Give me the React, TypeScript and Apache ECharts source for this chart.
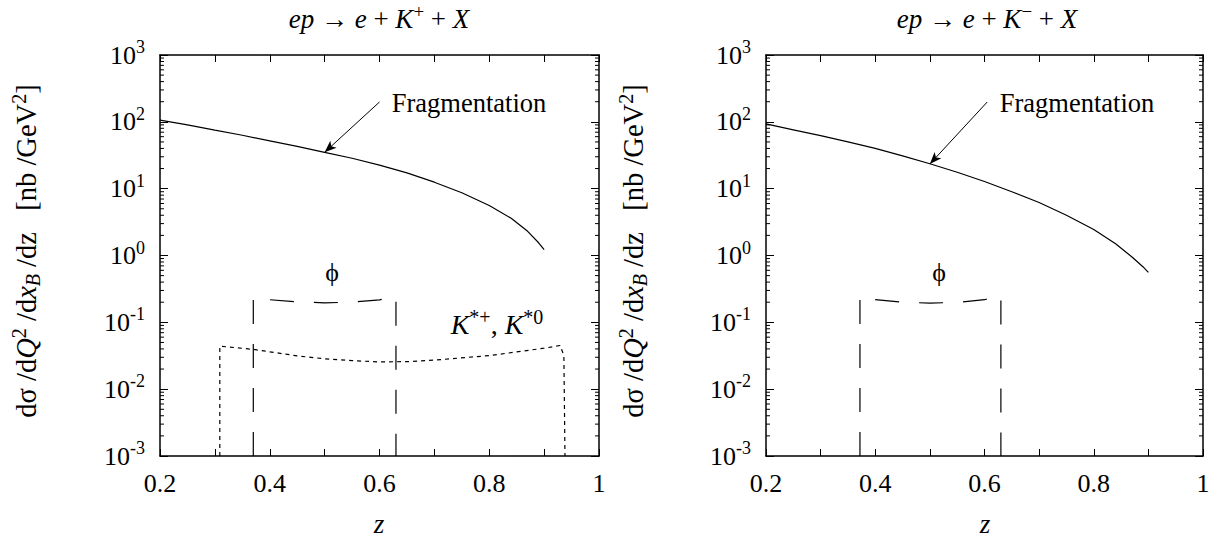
import React, { useEffect, useRef } from 'react';
import * as echarts from 'echarts';

// ---------- data ----------
const zLabelValues = [0.2, 0.4, 0.6, 0.8, 1];

// e p -> e + K+ + X
const fragKplus: [number, number][] = [
  [0.2, 106], [0.25, 90], [0.3, 75], [0.35, 63], [0.4, 52], [0.45, 43], [0.5, 35],
  [0.55, 28.5], [0.6, 22.5], [0.65, 17.2], [0.7, 12.5], [0.75, 8.7], [0.8, 5.6],
  [0.84, 3.6], [0.87, 2.3], [0.89, 1.55], [0.9, 1.22],
];
const phiKplus: [number, number][] = [
  [0.37, 0.001], [0.37, 0.24], [0.4, 0.218], [0.45, 0.202], [0.5, 0.196],
  [0.55, 0.2], [0.6, 0.217], [0.63, 0.245], [0.63, 0.001],
];
const kstarKplus: [number, number][] = [
  [0.309, 0.001], [0.309, 0.044], [0.37, 0.0394], [0.45, 0.0315], [0.5, 0.0285],
  [0.55, 0.0267], [0.6, 0.0256], [0.65, 0.0258], [0.7, 0.0272], [0.8, 0.0318],
  [0.9, 0.041], [0.929, 0.045], [0.936, 0.032], [0.938, 0.001],
];
const arrowKplus: [number, number][] = [[0.6, 198], [0.5, 35]];

// e p -> e + K- + X
const fragKminus: [number, number][] = [
  [0.2, 93], [0.25, 76], [0.3, 62], [0.35, 50], [0.4, 40], [0.45, 31], [0.5, 23.6],
  [0.55, 17.6], [0.6, 12.8], [0.65, 9.0], [0.7, 6.2], [0.75, 4.0], [0.8, 2.45],
  [0.84, 1.5], [0.87, 0.95], [0.89, 0.68], [0.9, 0.56],
];
const phiKminus: [number, number][] = [
  [0.372, 0.001], [0.372, 0.25], [0.4, 0.218], [0.45, 0.2], [0.5, 0.194],
  [0.55, 0.199], [0.6, 0.218], [0.63, 0.255], [0.63, 0.001],
];
const arrowKminus: [number, number][] = [[0.605, 198], [0.5, 23.4]];

// log-axis minor tick mantissas and decades
const minorMantissas = [2, 3, 4, 5, 6, 7, 8, 9];
const decades = [-3, -2, -1, 0, 1, 2];

// ---------- styling ----------
const FONT = '"Liberation Serif", "Times New Roman", serif';
const BLACK = '#000';

function richSet(size: number, lh: number) {
  return {
    n: { fontFamily: FONT, fontSize: size, fill: BLACK, lineHeight: lh },
    i: { fontFamily: FONT, fontStyle: 'italic', fontSize: size, fill: BLACK, lineHeight: lh },
    sup: { fontFamily: FONT, fontSize: Math.round(size * 0.7), fill: BLACK, verticalAlign: 'top' },
    subi: { fontFamily: FONT, fontStyle: 'italic', fontSize: Math.round(size * 0.7), fill: BLACK, verticalAlign: 'bottom' },
  };
}

function textEl(x: number, y: number, text: string, size: number, lh: number, rotation = 0) {
  return {
    type: 'text',
    x,
    y,
    rotation,
    z: 100,
    silent: true,
    style: {
      text,
      rich: richSet(size, lh),
      align: 'center',
      verticalAlign: 'middle',
      fill: BLACK,
    },
  };
}

const minorTickValues: number[] = [];
decades.forEach((d) => minorMantissas.forEach((m) => minorTickValues.push(m * Math.pow(10, d))));

function xAxes(grid: number) {
  const base = {
    gridIndex: grid,
    type: 'value',
    min: 0.2,
    max: 1,
    interval: 0.1,
    splitLine: { show: false },
    axisLine: { show: true, onZero: false, lineStyle: { color: BLACK, width: 1.5 } },
    axisTick: { show: true, inside: true, length: 7, lineStyle: { color: BLACK, width: 1 } },
  };
  return [
    {
      ...base,
      position: 'bottom',
      axisLabel: {
        show: true,
        margin: 14,
        color: BLACK,
        fontFamily: FONT,
        fontSize: 26,
        formatter: (v: number) => {
          const k = Math.round(v * 10);
          const match = zLabelValues.find((z) => Math.round(z * 10) === k);
          if (match === undefined) return '';
          return match === 1 ? '1' : match.toFixed(1);
        },
      },
    },
    { ...base, position: 'top', axisLabel: { show: false } },
  ];
}

function yAxes(grid: number) {
  const base = {
    gridIndex: grid,
    type: 'log',
    logBase: 10,
    min: 0.001,
    max: 1000,
    splitNumber: 6,
    splitLine: { show: false },
    axisLine: { show: true, onZero: false, lineStyle: { color: BLACK, width: 1.5 } },
    axisTick: { show: true, inside: true, length: 8, lineStyle: { color: BLACK, width: 1 } },
  };
  return [
    {
      ...base,
      position: 'left',
      axisLabel: {
        show: true,
        margin: 15,
        formatter: (v: number) => `{b|10}{s|${Math.round(Math.log10(v))}}`,
        rich: {
          b: { fontFamily: FONT, fontSize: 26, color: BLACK, lineHeight: 34 },
          s: { fontFamily: FONT, fontSize: 18, color: BLACK, verticalAlign: 'top' },
        },
      },
    },
    { ...base, position: 'right', axisLabel: { show: false } },
  ];
}

function minorTickSeries(xi: number, yi: number) {
  return {
    type: 'custom',
    xAxisIndex: xi,
    yAxisIndex: yi,
    silent: true,
    clip: false,
    data: minorTickValues.map((v) => [0.2, v]),
    renderItem: (_p: any, api: any) => {
      const v = api.value(1);
      const l = api.coord([0.2, v]);
      const r = api.coord([1, v]);
      const st = { stroke: BLACK, lineWidth: 1 };
      return {
        type: 'group',
        children: [
          { type: 'line', shape: { x1: l[0], y1: l[1], x2: l[0] + 4, y2: l[1] }, style: st },
          { type: 'line', shape: { x1: r[0] - 4, y1: r[1], x2: r[0], y2: r[1] }, style: st },
        ],
      };
    },
  };
}

function lineSeries(data: [number, number][], xi: number, yi: number, type: any, arrow?: [number, number][]) {
  const s: any = {
    type: 'line',
    xAxisIndex: xi,
    yAxisIndex: yi,
    data,
    showSymbol: false,
    symbol: 'none',
    smooth: false,
    silent: true,
    lineStyle: { color: BLACK, width: 1.2, type },
  };
  if (arrow) {
    s.markLine = {
      silent: true,
      symbol: ['none', 'arrow'],
      symbolSize: [7, 12],
      label: { show: false },
      lineStyle: { color: BLACK, width: 1, type: 'solid' },
      data: [[{ coord: arrow[0] }, { coord: arrow[1] }]],
    };
  }
  return s;
}

const yName =
  '{n|dσ /d}{i|Q}{sup|2}{n| /d}{i|x}{subi|B}{n| /dz   [nb /GeV}{sup|2}{n|]}';

export default function App() {
  const ref = useRef<HTMLDivElement>(null);
  useEffect(() => {
    if (!ref.current) return;
    const chart = echarts.init(ref.current, undefined, { renderer: 'svg' });
    const option: any = {
      animation: false,
      backgroundColor: '#fff',
      grid: [
        { left: 160, top: 55, width: 439, height: 401, containLabel: false },
        { left: 766, top: 55, width: 437, height: 401, containLabel: false },
      ],
      xAxis: [...xAxes(0), ...xAxes(1)],
      yAxis: [...yAxes(0), ...yAxes(1)],
      series: [
        minorTickSeries(0, 0),
        minorTickSeries(2, 2),
        lineSeries(fragKplus, 0, 0, 'solid', arrowKplus),
        lineSeries(phiKplus, 0, 0, [24, 20]),
        lineSeries(kstarKplus, 0, 0, [4, 4]),
        lineSeries(fragKminus, 2, 2, 'solid', arrowKminus),
        lineSeries(phiKminus, 2, 2, [24, 20]),
      ],
      graphic: [
        textEl(379, 19, '{i|ep}{n| → }{i|e}{n| + }{i|K}{sup|+}{n| + }{i|X}', 27, 34),
        textEl(987, 19, '{i|ep}{n| → }{i|e}{n| + }{i|K}{sup|−}{n| + }{i|X}', 27, 34),
        textEl(469, 103, '{n|Fragmentation}', 26.5, 32),
        textEl(1077, 103, '{n|Fragmentation}', 26.5, 32),
        textEl(332, 272, '{n|ϕ}', 26, 30),
        textEl(939, 272, '{n|ϕ}', 26, 30),
        textEl(497, 324, '{i|K}{sup|*+}{n|, }{i|K}{sup|*0}', 28, 34),
        textEl(379, 524, '{i|z}', 27, 30),
        textEl(985, 524, '{i|z}', 27, 30),
        textEl(26, 251, yName, 28.5, 34, Math.PI / 2),
        textEl(633, 251, yName, 28.5, 34, Math.PI / 2),
      ],
    };
    chart.setOption(option);
    return () => chart.dispose();
  }, []);
  return (
    <div
      ref={ref}
      style={{ position: 'absolute', left: 0, top: 0, width: 1216, height: 541, background: '#fff' }}
    />
  );
}
